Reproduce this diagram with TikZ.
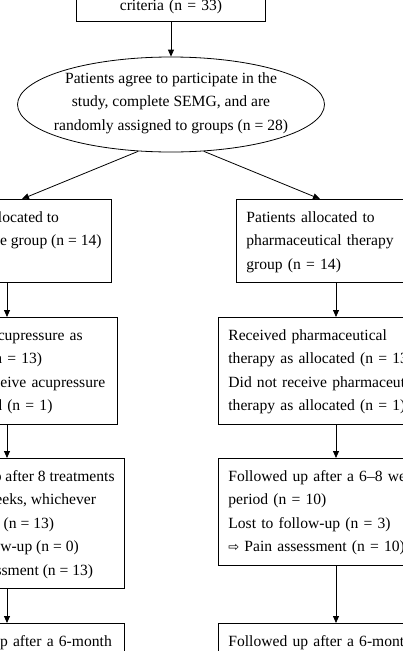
\documentclass[tikz,border=0pt]{standalone}
\usepackage{fontspec}
\setmainfont{Liberation Serif}
\newfontfamily\arrowfont{DejaVu Sans}
\usetikzlibrary{shapes.geometric,positioning,calc,arrows.meta}
\tikzset{STEPBOX/.style={rectangle,draw,line width=0.8pt,align=left,inner xsep=10pt,inner ysep=6.25pt,execute at begin node=\strut,execute at end node=\strut}}
\tikzset{PLAINTEXT/.style={align=center,inner sep=0pt,execute at begin node=\strut,execute at end node=\strut}}
\tikzset{ARROW/.style={line width=0.8pt,-{Triangle[length=7pt,width=6pt]}}}
\newcommand{\assessarrow}{{\arrowfont\fontsize{13}{13}\selectfont ⇨}}

\begin{document}
\begin{tikzpicture}[x=1pt,y=-1pt,font=\fontsize{15.6}{23.5}\selectfont]
\useasboundingbox (0,0) rectangle (403,651);

\coordinate (c_left) at (7,0);
\coordinate (c_right) at (336,0);
\coordinate (c_left_in) at (22,0);
\coordinate (c_right_in) at (320,0);

\node[STEPBOX, align=center, text width=169pt, anchor=south, text height=40pt, text depth=5pt] (n_criteria) at (171,22) {criteria (n = 33)};

\node[ellipse, draw, line width=0.8pt, minimum width=307pt, minimum height=95pt, inner sep=0pt] (n_random) at (171,104.5) {};
\node[PLAINTEXT] (n_random_text) at (171,105) {Patients agree to participate in the\\ study, complete SEMG, and are\\ randomly assigned to groups (n = 28)};

% acupressure arm (natural width, so struts go in by hand)
\node[STEPBOX, anchor=north east] (n_acu_alloc) at (112,199) {\strut Patients allocated to\\ acupressure group (n = 14)\\ \strut};
\node[STEPBOX, text width=180pt, anchor=north east] (n_acu_recv) at (118,317) {Received acupressure as\\ allocated (n = 13)\\ Did not receive acupressure\\ as allocated (n = 1)};
\node[STEPBOX, anchor=north east] (n_acu_follow) at (125,458) {\strut Followed up after 8 treatments\\ or after 4 weeks, whichever\\ came earlier (n = 13)\\ Lost to follow-up (n = 0)\\ \assessarrow{} Pain assessment (n = 13)\strut};
\node[STEPBOX, text width=186.5pt, anchor=north east, text depth=40pt] (n_acu_6m) at (125,623) {Followed up after a 6-month};

% pharmaceutical arm
\node[STEPBOX, text width=190pt, anchor=north west] (n_pharm_alloc) at (236,199) {Patients allocated to\\ pharmaceutical therapy\\ group (n = 14)};
\node[STEPBOX, text width=210pt, anchor=north west] (n_pharm_recv) at (218,317) {Received pharmaceutical\\ therapy as allocated (n = 13)\\ Did not receive pharmaceutical\\ therapy as allocated (n = 1)};
\node[STEPBOX, text width=210pt, anchor=north west] (n_pharm_follow) at (218,458) {Followed up after a 6–8 week\\ period (n = 10)\\ Lost to follow-up (n = 3)\\ \assessarrow{} Pain assessment (n = 10)};
\node[STEPBOX, text width=210pt, anchor=north west, text depth=40pt] (n_pharm_6m) at (218,623) {Followed up after a 6-month};

\draw[ARROW] (n_criteria.south) -- (n_random.north);
\draw[ARROW] (n_random.-125) -- (n_acu_alloc.north -| c_left_in);
\draw[ARROW] (n_random.-55) -- (n_pharm_alloc.north -| c_right_in);

\draw[ARROW] (n_acu_alloc.south -| c_left) -- (n_acu_recv.north -| c_left);
\draw[ARROW] (n_acu_recv.south -| c_left) -- (n_acu_follow.north -| c_left);
\draw[ARROW] (n_acu_follow.south -| c_left) -- (n_acu_6m.north -| c_left);

\draw[ARROW] (n_pharm_alloc.south -| c_right) -- (n_pharm_recv.north -| c_right);
\draw[ARROW] (n_pharm_recv.south -| c_right) -- (n_pharm_follow.north -| c_right);
\draw[ARROW] (n_pharm_follow.south -| c_right) -- (n_pharm_6m.north -| c_right);

\end{tikzpicture}
\end{document}
